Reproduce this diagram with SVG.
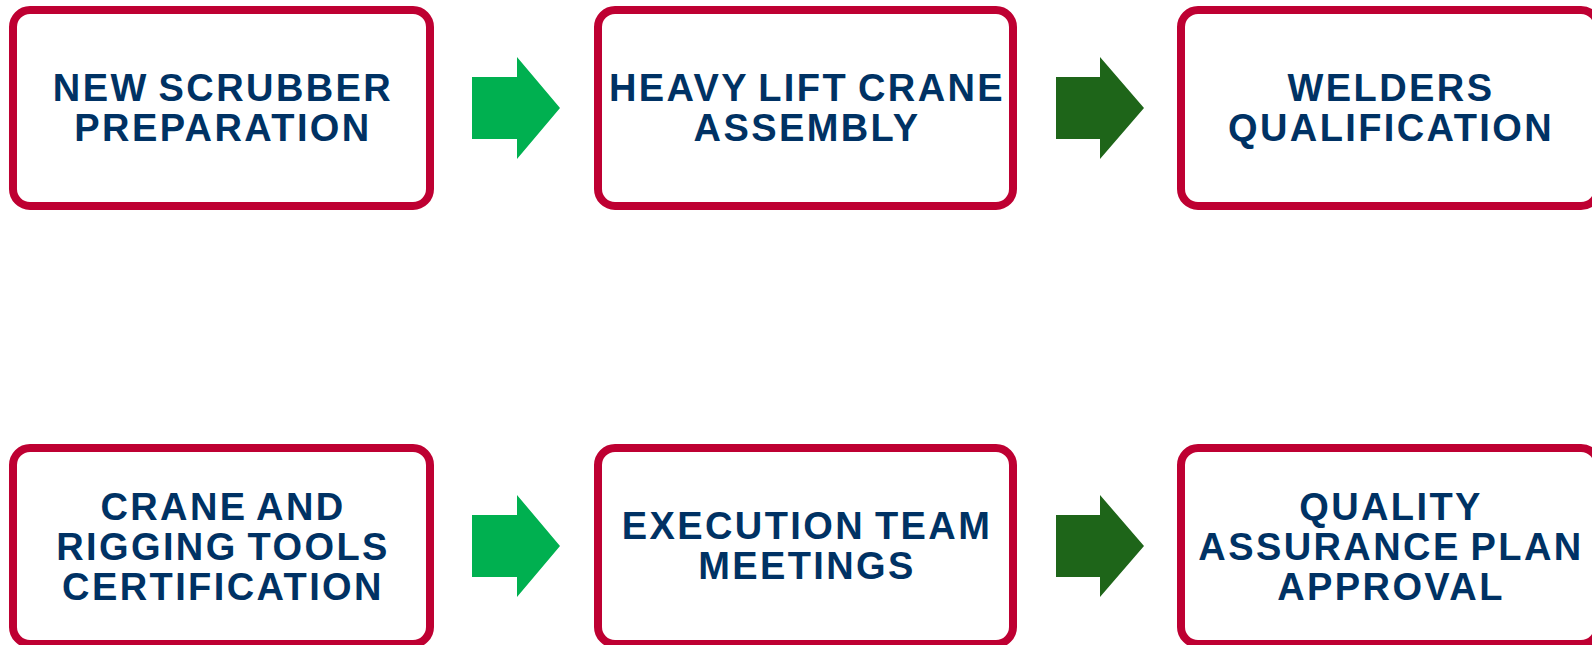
<svg xmlns="http://www.w3.org/2000/svg" width="1592" height="645" viewBox="0 0 1592 645">
<style>
.box{fill:#ffffff;stroke:#BE0032;stroke-width:8}
.t{font-family:"Liberation Sans",Arial,sans-serif;font-weight:bold;font-size:38px;fill:#003264;text-anchor:middle;letter-spacing:2.4px;word-spacing:-3px}
.a1{fill:#00B050}
.a2{fill:#1E6519}
</style>
<rect width="1592" height="645" fill="#ffffff"/>
<g id="connectors">
<polygon class="a1" points="472,77 517,77 517,57 560,108 517,159 517,139 472,139"/>
<polygon class="a2" points="1056,77 1100,77 1100,57 1144,108 1100,159 1100,139 1056,139"/>
<polygon class="a1" points="472,515 517,515 517,495 560,546 517,597 517,577 472,577"/>
<polygon class="a2" points="1056,515 1100,515 1100,495 1144,546 1100,597 1100,577 1056,577"/>
</g>
<g id="node1">
<rect class="box" x="13" y="10" width="417" height="196" rx="17"/>
<text class="t" x="223" y="101">NEW SCRUBBER</text>
<text class="t" x="223" y="141">PREPARATION</text>
</g>
<g id="node2">
<rect class="box" x="598" y="10" width="415" height="196" rx="17"/>
<text class="t" x="807" y="101">HEAVY LIFT CRANE</text>
<text class="t" x="807" y="141">ASSEMBLY</text>
</g>
<g id="node3">
<rect class="box" x="1181" y="10" width="417" height="196" rx="17"/>
<text class="t" x="1391" y="101">WELDERS</text>
<text class="t" x="1391" y="141">QUALIFICATION</text>
</g>
<g id="node4">
<rect class="box" x="13" y="448" width="417" height="196" rx="17"/>
<text class="t" x="223" y="520">CRANE AND</text>
<text class="t" x="223" y="560">RIGGING TOOLS</text>
<text class="t" x="223" y="600">CERTIFICATION</text>
</g>
<g id="node5">
<rect class="box" x="598" y="448" width="415" height="196" rx="17"/>
<text class="t" x="807" y="539">EXECUTION TEAM</text>
<text class="t" x="807" y="579">MEETINGS</text>
</g>
<g id="node6">
<rect class="box" x="1181" y="448" width="417" height="196" rx="17"/>
<text class="t" x="1391" y="520">QUALITY</text>
<text class="t" x="1391" y="560">ASSURANCE PLAN</text>
<text class="t" x="1391" y="600">APPROVAL</text>
</g>
</svg>
